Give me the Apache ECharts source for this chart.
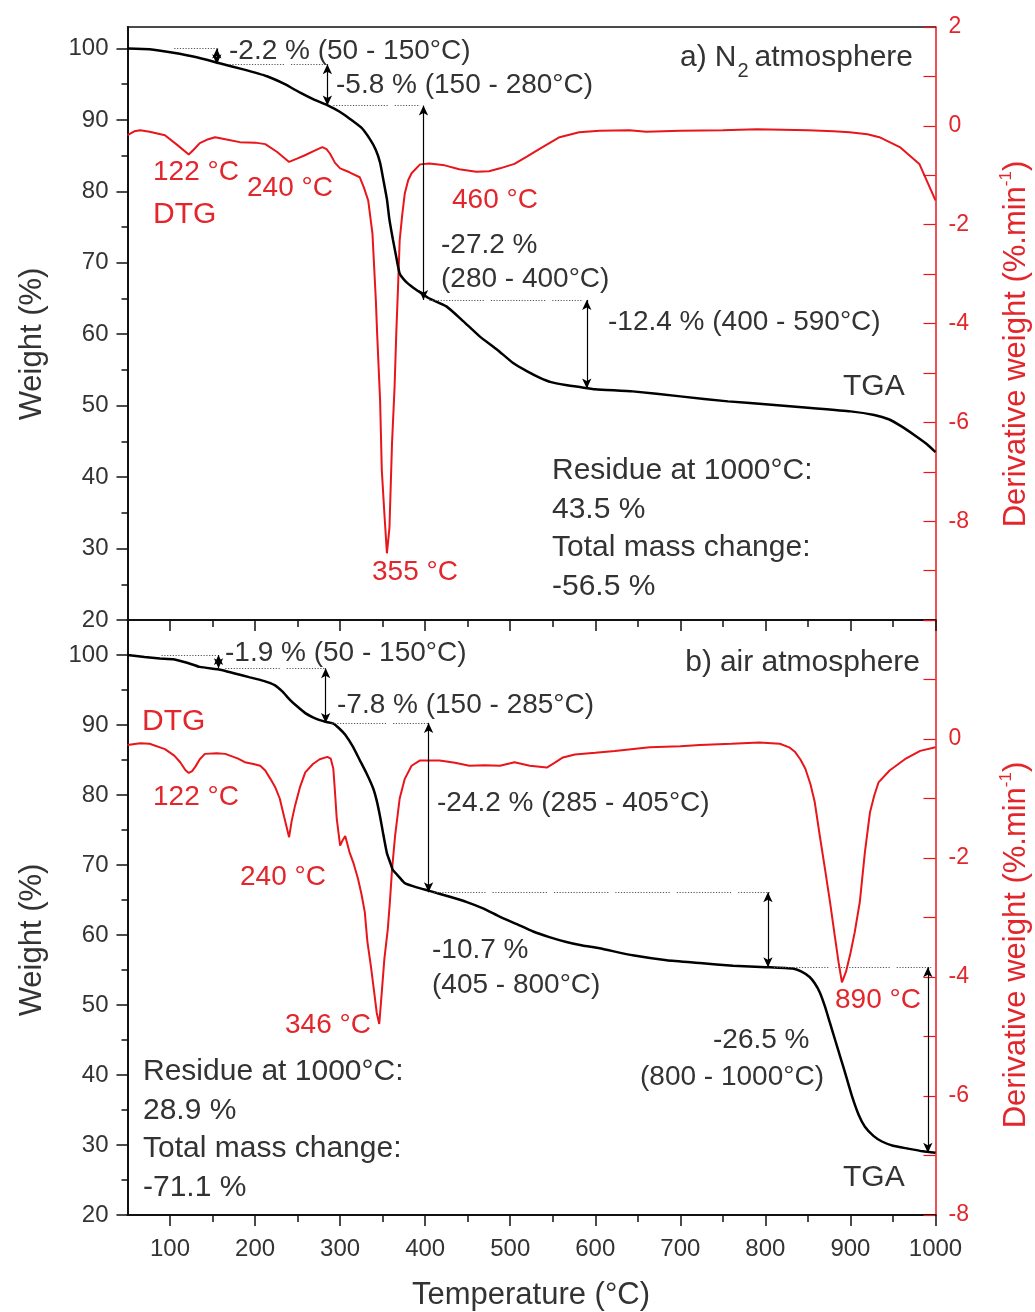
<!DOCTYPE html>
<html>
<head>
<meta charset="utf-8">
<title>TGA / DTG</title>
<script src="https://cdn.jsdelivr.net/npm/echarts@6/dist/echarts.min.js"></script>
<style>
  html, body { margin: 0; padding: 0; background: #fff; }
  #chart { width: 1035px; height: 1312px; }
</style>
</head>
<body>
<div id="chart"></div>
<script>
// ---- tick values ----
const tempTicks = [100, 200, 300, 400, 500, 600, 700, 800, 900, 1000];
const tempMinorTicks = [150, 250, 350, 450, 550, 650, 750, 850, 950];
const weightTicks = [20, 30, 40, 50, 60, 70, 80, 90, 100];
const weightMinorTicks = [25, 35, 45, 55, 65, 75, 85, 95];
const dtgLabelsN2 = [-8, -6, -4, -2, 0, 2];
const dtgLabelsAir = [-8, -6, -4, -2, 0];

// ---- a) N2 atmosphere: [temperature °C, value] ----
const tgaN2 = [
  [50,100.0],[76,99.9],[104,99.4],[130,98.8],[156,98.0],[185,97.1],[214,96.1],[235,95.0],
  [253,93.8],[270,92.8],[286,92.0],[300,91.1],[312,90.1],[325,88.9],[335,87.3],[342,85.8],
  [347,84.0],[351,81.5],[355,78.9],[358,76.0],[362,73.3],[366,70.8],[370,68.5],[377,67.4],
  [386,66.5],[397,65.6],[405,65.0],[425,63.9],[445,61.8],[464,59.7],[485,57.8],[503,56.0],
  [520,54.8],[535,53.9],[548,53.3],[565,52.9],[582,52.6],[600,52.3],[644,52.0],[700,51.3],
  [756,50.6],[800,50.2],[850,49.7],[900,49.2],[928,48.7],[945,48.1],[960,47.1],[975,45.9],
  [990,44.6],[1000,43.5]
];
const dtgN2 = [
  [50,-0.19],[58,-0.11],[65,-0.09],[76,-0.12],[94,-0.19],[108,-0.38],[122,-0.58],[128,-0.48],
  [135,-0.35],[145,-0.27],[153,-0.23],[165,-0.27],[182,-0.33],[200,-0.34],[212,-0.37],[226,-0.53],
  [240,-0.73],[250,-0.66],[258,-0.60],[270,-0.50],[279,-0.43],[284,-0.47],[288,-0.56],[294,-0.75],
  [300,-0.86],[311,-0.94],[323,-1.04],[328,-1.25],[333,-1.51],[338,-2.18],[342,-3.53],[343.5,-4.2],
  [347,-5.56],[349,-6.97],[352,-7.84],[355,-8.65],[358,-8.13],[361,-6.43],[364,-5.29],[366,-4.2],
  [368,-3.3],[370,-2.32],[373,-1.80],[376,-1.37],[380,-1.10],[384,-0.96],[394,-0.78],[405,-0.76],
  [423,-0.80],[440,-0.88],[460,-0.93],[475,-0.92],[488,-0.86],[505,-0.77],[520,-0.62],[535,-0.46],
  [558,-0.23],[581,-0.13],[605,-0.10],[640,-0.09],[660,-0.12],[700,-0.10],[750,-0.09],[790,-0.07],
  [820,-0.08],[850,-0.09],[880,-0.11],[899,-0.13],[920,-0.17],[934,-0.23],[958,-0.43],[981,-0.77],
  [1000,-1.51]
];
// mass-loss steps: loss (%), temperature range, arrow temperature, dotted guide span
const lossN2 = [2.2, 5.8, 27.2, 12.4];
const rangeN2 = [[50,150],[150,280],[280,400],[400,590]];
const arrowTempN2 = [155, 285, 398, 590];
const guideN2 = [[105,155],[170,280],[292,394],[405,585]];
const peaksN2 = [122, 240, 355, 460];

// ---- b) air atmosphere ----
const tgaAir = [
  [50,100.0],[70,99.7],[88,99.5],[104,99.4],[120,98.9],[135,98.3],[159,97.9],[175,97.4],
  [194,96.8],[210,96.3],[223,95.7],[232,94.8],[241,93.6],[250,92.6],[259,91.7],[268,91.1],
  [276,90.7],[285,90.4],[292,90.2],[299,89.5],[306,88.6],[315,86.9],[323,85.0],[331,83.1],
  [339,80.9],[343,79.2],[347,76.9],[351,74.2],[355,71.7],[359,70.3],[362,69.3],[370,68.2],
  [376,67.4],[390,66.8],[405,66.3],[428,65.5],[449,64.7],[468,63.8],[488,62.6],[507,61.6],
  [527,60.5],[546,59.7],[566,59.0],[585,58.5],[605,58.1],[644,57.1],[684,56.4],[723,56.0],
  [762,55.6],[801,55.4],[832,55.2],[842,54.8],[852,54.0],[858,53.1],[864,51.8],[870,49.8],
  [876,47.4],[882,45.0],[888,42.6],[894,40.2],[902,36.9],[910,34.2],[917,32.6],[927,31.3],
  [937,30.5],[950,29.9],[967,29.5],[985,29.1],[1000,28.9]
];
const dtgAir = [
  [50,-0.10],[65,-0.07],[76,-0.08],[94,-0.17],[105,-0.28],[112,-0.39],[118,-0.52],[122,-0.57],
  [126,-0.54],[130,-0.46],[135,-0.34],[141,-0.25],[155,-0.24],[165,-0.25],[180,-0.33],[188,-0.39],
  [198,-0.42],[206,-0.45],[212,-0.53],[218,-0.67],[224,-0.82],[229,-1.00],[234,-1.30],[240,-1.65],
  [243,-1.38],[247,-1.12],[253,-0.80],[259,-0.56],[268,-0.42],[276,-0.34],[285,-0.30],[289,-0.33],
  [292,-0.50],[294,-0.90],[296,-1.34],[300,-1.79],[303,-1.70],[306,-1.63],[311,-1.90],[316,-2.10],
  [321,-2.35],[325,-2.60],[329,-2.91],[332,-3.40],[336,-3.80],[340,-4.25],[343,-4.60],[346,-4.79],
  [349,-4.25],[352,-3.70],[356,-3.20],[358.5,-2.74],[361,-2.20],[364.6,-1.63],[370,-1.00],[376,-0.67],
  [384,-0.45],[394,-0.36],[417,-0.36],[435,-0.40],[452,-0.45],[470,-0.44],[488,-0.45],[505,-0.39],
  [523,-0.45],[543,-0.48],[552,-0.40],[562,-0.31],[576,-0.26],[600,-0.23],[623,-0.20],[664,-0.14],
  [700,-0.12],[723,-0.10],[760,-0.08],[793,-0.06],[817,-0.08],[828,-0.14],[835,-0.22],[841,-0.34],
  [847,-0.50],[853,-0.76],[858,-1.06],[864,-1.63],[870,-2.18],[876,-2.74],[882,-3.35],[886,-3.75],
  [890,-4.09],[895,-3.90],[900,-3.60],[905,-3.25],[911,-2.74],[917,-1.90],[923,-1.23],[928,-0.95],
  [933,-0.73],[946,-0.53],[964,-0.34],[982,-0.20],[1000,-0.14]
];
const lossAir = [1.9, 7.8, 24.2, 10.7, 26.5];
const rangeAir = [[50,150],[150,285],[285,405],[405,800],[800,1000]];
const arrowTempAir = [157, 283, 404, 803, 991];
const guideAir = [[90,157],[165,283],[290,404],[407,805],[810,995]];
const peaksAir = [122, 240, 346, 890];

// ---- styling ----
const FONT = '"Liberation Sans", Arial, Helvetica, sans-serif';
const AX = '#111111';
const TXT = '#333333';
const RED = '#e8151b';
const RED_TXT = '#e2262c';

// fine dotted runs separated by short gaps
function dottedRuns(dots, gap) {
  const a = [];
  for (let i = 0; i < dots; i++) a.push(1.2, 1.6);
  a[a.length - 1] = gap;
  return a;
}
const GUIDE_DASH = dottedRuns(20, 7);

// cumulative weight levels from 100 % and the stated losses
function levels(losses) {
  const lv = [100];
  losses.forEach(l => lv.push(+(lv[lv.length - 1] - l).toFixed(1)));
  return lv;
}

function stepMarks(losses, arrowTemps, guides) {
  const lv = levels(losses);
  const data = [];
  guides.forEach((g, i) => {
    data.push([
      { coord: [g[0], lv[i]], symbol: 'none',
        lineStyle: { type: GUIDE_DASH, color: '#555', width: 1 } },
      { coord: [g[1], lv[i]], symbol: 'none' }
    ]);
  });
  arrowTemps.forEach((t, i) => {
    data.push([
      { coord: [t, lv[i]], symbol: 'arrow', symbolSize: [7, 10],
        lineStyle: { type: 'solid', color: '#000', width: 1.2 } },
      { coord: [t, lv[i + 1]], symbol: 'arrow', symbolSize: [7, 10] }
    ]);
  });
  return {
    silent: true, animation: false, symbol: ['none', 'none'],
    label: { show: false }, emphasis: { disabled: true },
    lineStyle: { color: '#000', width: 1.2 },
    data
  };
}

function stepText(losses, ranges, i) {
  return '-' + losses[i].toFixed(1) + ' % (' + ranges[i][0] + ' - ' + ranges[i][1] + '°C)';
}

// ---- axes ----
function xMajor(grid, labels) {
  return {
    gridIndex: grid, type: 'value', min: 50, max: 1000, position: 'bottom',
    axisLine: { onZero: false, lineStyle: { color: AX, width: 2 } },
    axisTick: { customValues: tempTicks, length: 11, lineStyle: { color: AX, width: 1.5 } },
    axisLabel: labels
      ? { customValues: tempTicks, margin: 22, color: TXT, fontSize: 24, fontFamily: FONT,
          formatter: v => String(v) }
      : { show: false },
    splitLine: { show: false }
  };
}
function xMinor(grid) {
  return {
    gridIndex: grid, type: 'value', min: 50, max: 1000, position: 'bottom',
    axisLine: { show: false, onZero: false },
    axisTick: { customValues: tempMinorTicks, length: 7, lineStyle: { color: AX, width: 1.5 } },
    axisLabel: { show: false }, splitLine: { show: false }
  };
}
function yWeight(grid, max) {
  return {
    gridIndex: grid, type: 'value', min: 20, max: max, position: 'left',
    axisLine: { onZero: false, lineStyle: { color: AX, width: 2 } },
    axisTick: { customValues: weightTicks, length: 11, lineStyle: { color: AX, width: 1.5 } },
    axisLabel: { customValues: weightTicks, margin: 19, color: TXT, fontSize: 24, fontFamily: FONT },
    splitLine: { show: false }
  };
}
function yWeightMinor(grid, max) {
  return {
    gridIndex: grid, type: 'value', min: 20, max: max, position: 'left',
    axisLine: { show: false, onZero: false },
    axisTick: { customValues: weightMinorTicks, length: 6, lineStyle: { color: AX, width: 1.5 } },
    axisLabel: { show: false }, splitLine: { show: false }
  };
}
function yDtg(grid, min, max, labels) {
  return {
    gridIndex: grid, type: 'value', min: min, max: max, interval: 1, position: 'right',
    axisLine: { onZero: false, lineStyle: { color: RED, width: 1.5 } },
    axisTick: { inside: true, length: 12, lineStyle: { color: RED, width: 1.2 } },
    axisLabel: { customValues: labels, margin: 13, color: RED_TXT, fontSize: 23, fontFamily: FONT },
    splitLine: { show: false }
  };
}

// ---- text helpers ----
function T(x, y, text, o) {
  return {
    type: 'text', x: x, y: y, z: 100, silent: true,
    style: Object.assign({
      text: text, fill: TXT, font: '28px ' + FONT, align: 'left', verticalAlign: 'middle'
    }, o || {})
  };
}
function R(x, y, text, size) {
  return T(x, y, text, { fill: RED_TXT, font: (size || 28) + 'px ' + FONT });
}
const measureCtx = document.createElement('canvas').getContext('2d');
function textWidth(text, font) { measureCtx.font = font; return measureCtx.measureText(text).width; }

// panel caption, right-aligned: "a) N₂ atmosphere"
function panelTitle(right, y, tag, gas, sub, rest) {
  const f = '30px ' + FONT;
  const fs = '20px ' + FONT;
  const els = [];
  const restLeft = right - textWidth(rest, f);
  let cursor = restLeft;
  els.push(T(restLeft, y, rest, { font: f }));
  if (sub) {
    cursor -= textWidth(sub, fs) + 6;
    els.push(T(cursor, y + 13, sub, { font: fs }));
    cursor -= 1;
  }
  if (gas) {
    cursor -= textWidth(gas, f);
    els.push(T(cursor, y, gas, { font: f }));
  }
  cursor -= 8;
  els.push(T(cursor, y, tag, { font: f, align: 'right' }));
  return els;
}

function residueBlock(x, y0, tga) {
  const res = tga[tga.length - 1][1];
  const f = '30px ' + FONT;
  return [
    T(x, y0, 'Residue at 1000°C:', { font: f }),
    T(x, y0 + 39, res.toFixed(1) + ' %', { font: f }),
    T(x, y0 + 77, 'Total mass change:', { font: f }),
    T(x, y0 + 116, (res - 100).toFixed(1) + ' %', { font: f })
  ];
}

function vTitle(x, y, style) {
  return {
    type: 'text', x: x, y: y, rotation: Math.PI / 2, z: 100, silent: true,
    style: style
  };
}
const weightTitle = (y) => vTitle(32, y, {
  text: 'Weight (%)', fill: TXT, font: '31px ' + FONT, align: 'center', verticalAlign: 'middle'
});
const dtgTitle = (y) => vTitle(1016, y, {
  text: '{a|Derivative weight (%.min}{s|-1}{a|)}',
  align: 'center', verticalAlign: 'middle',
  rich: {
    a: { fill: RED_TXT, fontSize: 31, fontFamily: FONT, lineHeight: 36 },
    s: { fill: RED_TXT, fontSize: 17, fontFamily: FONT, verticalAlign: 'top', lineHeight: 36 }
  }
});

const graphics = [].concat(
  // panel a
  panelTitle(913, 58, 'a)', 'N', '2', 'atmosphere'),
  [
    T(229, 51, stepText(lossN2, rangeN2, 0)),
    T(336, 85, stepText(lossN2, rangeN2, 1)),
    T(441, 245, '-' + lossN2[2].toFixed(1) + ' %'),
    T(441, 279, '(' + rangeN2[2][0] + ' - ' + rangeN2[2][1] + '°C)'),
    T(608, 322, stepText(lossN2, rangeN2, 3)),
    T(843, 387, 'TGA', { font: '30px ' + FONT }),
    R(153, 172, peaksN2[0] + ' °C'),
    R(247, 188, peaksN2[1] + ' °C'),
    R(153, 215, 'DTG', 30),
    R(452, 200, peaksN2[3] + ' °C'),
    R(372, 572, peaksN2[2] + ' °C')
  ],
  residueBlock(552, 471, tgaN2),
  // panel b
  panelTitle(920, 663, 'b)', '', '', 'air atmosphere'),
  [
    T(225, 653, stepText(lossAir, rangeAir, 0)),
    T(337, 705, stepText(lossAir, rangeAir, 1)),
    T(437, 803, stepText(lossAir, rangeAir, 2)),
    T(432, 950, '-' + lossAir[3].toFixed(1) + ' %'),
    T(432, 985, '(' + rangeAir[3][0] + ' - ' + rangeAir[3][1] + '°C)'),
    T(713, 1040, '-' + lossAir[4].toFixed(1) + ' %'),
    T(640, 1077, '(' + rangeAir[4][0] + ' - ' + rangeAir[4][1] + '°C)'),
    T(843, 1178, 'TGA', { font: '30px ' + FONT }),
    R(142, 722, 'DTG', 30),
    R(153, 797, peaksAir[0] + ' °C'),
    R(240, 877, peaksAir[1] + ' °C'),
    R(285, 1025, peaksAir[2] + ' °C'),
    R(835, 1000, peaksAir[3] + ' °C')
  ],
  residueBlock(143, 1072, tgaAir),
  // axis titles
  [
    weightTitle(344), weightTitle(940),
    dtgTitle(344), dtgTitle(945),
    T(531, 1295, 'Temperature (°C)', { font: '31px ' + FONT, align: 'center' })
  ]
);

const tgaLine = { color: '#000', width: 2.5 };
const chart = echarts.init(document.getElementById('chart'), null, { renderer: 'canvas' });
chart.setOption({
  animation: false,
  backgroundColor: '#ffffff',
  grid: [
    { left: 127.5, right: 99.5, top: 27, height: 593 },
    { left: 127.5, right: 99.5, top: 620, height: 595 }
  ],
  xAxis: [
    xMajor(0, false),
    xMinor(0),
    { gridIndex: 0, type: 'value', min: 50, max: 1000, position: 'top',
      axisLine: { onZero: false, lineStyle: { color: AX, width: 1.5 } },
      axisTick: { show: false }, axisLabel: { show: false }, splitLine: { show: false } },
    xMajor(1, true),
    xMinor(1)
  ],
  yAxis: [
    yWeight(0, 103),
    yWeightMinor(0, 103),
    yDtg(0, -10, 2, dtgLabelsN2),
    yWeight(1, 105),
    yWeightMinor(1, 105),
    yDtg(1, -8, 2, dtgLabelsAir)
  ],
  series: [
    { name: 'DTG N2', type: 'line', xAxisIndex: 0, yAxisIndex: 2, data: dtgN2,
      showSymbol: false, symbol: 'none', lineStyle: { color: RED, width: 2 }, z: 2, silent: true },
    { name: 'TGA N2', type: 'line', xAxisIndex: 0, yAxisIndex: 0, data: tgaN2,
      showSymbol: false, symbol: 'none', smooth: 0.15,
      lineStyle: tgaLine, z: 3, silent: true,
      markLine: stepMarks(lossN2, arrowTempN2, guideN2) },
    { name: 'DTG air', type: 'line', xAxisIndex: 3, yAxisIndex: 5, data: dtgAir,
      showSymbol: false, symbol: 'none', lineStyle: { color: RED, width: 2 }, z: 2, silent: true },
    { name: 'TGA air', type: 'line', xAxisIndex: 3, yAxisIndex: 3, data: tgaAir,
      showSymbol: false, symbol: 'none', smooth: 0.15,
      lineStyle: tgaLine, z: 3, silent: true,
      markLine: stepMarks(lossAir, arrowTempAir, guideAir) }
  ],
  graphic: graphics
});
</script>
</body>
</html>
